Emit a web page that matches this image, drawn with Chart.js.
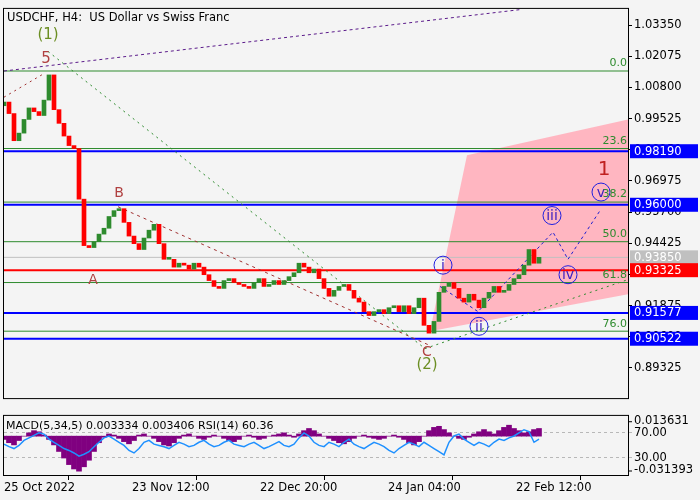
<!DOCTYPE html>
<html><head><meta charset="utf-8">
<script src="https://cdn.jsdelivr.net/npm/chart.js@4.4.1/dist/chart.umd.min.js"></script>
<style>
html,body{margin:0;padding:0;background:#f4f4f4;width:700px;height:500px;overflow:hidden}
#w1{position:absolute;left:0;top:0;width:700px;height:407px}
#w2{position:absolute;left:0;top:407px;width:700px;height:93px}
</style></head><body>
<div id="w1"><canvas id="c1"></canvas></div>
<div id="w2"><canvas id="c2"></canvas></div>
<script>
const title = 'USDCHF, H4:  US Dollar vs Swiss Franc';
const closes = [1.0020,0.9973,0.9862,0.9893,0.9949,0.9996,0.9981,0.9965,1.0028,1.0131,0.9989,0.9933,0.9881,0.9842,0.9830,0.9623,0.9433,0.9425,0.9449,0.9480,0.9504,0.9552,0.9576,0.9584,0.9528,0.9472,0.9441,0.9417,0.9464,0.9496,0.9520,0.9441,0.9377,0.9377,0.9345,0.9361,0.9353,0.9337,0.9361,0.9345,0.9314,0.9290,0.9266,0.9258,0.9290,0.9298,0.9282,0.9274,0.9266,0.9258,0.9282,0.9298,0.9266,0.9274,0.9290,0.9274,0.9290,0.9306,0.9322,0.9361,0.9345,0.9322,0.9337,0.9298,0.9258,0.9226,0.9250,0.9266,0.9274,0.9250,0.9218,0.9202,0.9163,0.9147,0.9163,0.9171,0.9155,0.9179,0.9187,0.9163,0.9187,0.9155,0.9179,0.9218,0.9107,0.9075,0.9123,0.9242,0.9266,0.9282,0.9258,0.9218,0.9202,0.9234,0.9210,0.9179,0.9218,0.9242,0.9266,0.9242,0.9250,0.9274,0.9298,0.9314,0.9353,0.9417,0.9361,0.9385];
const openFirst = 1.0005;
const priceTicks = [1.03350,1.02075,1.00800,0.99525,0.98250,0.96975,0.95700,0.94425,0.93150,0.91875,0.90600,0.89325];
const fibLevels = [1.0147,0.9830,0.9611,0.9449,0.9282,0.9083];
const fibLabels = ['0.0','23.6','38.2','50.0','61.8','76.0'];
const blueLevels = [0.98190,0.96000,0.91577,0.90522];
const redLevel = 0.93325;
const lastPrice = 0.93850;
const purpleLine = [[0,1.0147],[103.2,1.0398]];
const greenDotA = [[8.8,1.0227],[84.2,0.9012]];
const greenDotB = [[84.2,0.9012],[124.8,0.9294]];
const redDotA = [[0,1.0040],[8.2,1.0139]];
const redDotB = [[22.8,0.9592],[84.8,0.9028]];
const bluePath = [[87.2,0.9266],[94.8,0.9163],[109.8,0.9488],[112.8,0.9377],[119.2,0.9576]];
const pinkZone = [[85.2,0.9083],[92.6,0.9803],[124.8,0.9949],[124.8,0.9234],[85.2,0.9083]];
const waveLabels = [
 {t:'(1)',x:8.8,y:1.0292,c:'#6b8e23',s:15},{t:'5',x:8.4,y:1.0197,c:'#b04040',s:15},
 {t:'B',x:23,y:0.9647,c:'#b04040',s:14},{t:'A',x:17.8,y:0.9290,c:'#b04040',s:14},
 {t:'C',x:84.6,y:0.8998,c:'#b04040',s:14},{t:'(2)',x:84.6,y:0.8943,c:'#6b8e23',s:15},
 {t:'1',x:120,y:0.9743,c:'#c02020',s:20}];
const circleLabels = [{t:'i',x:87.8,y:0.9353},{t:'ii',x:95,y:0.9103},{t:'iii',x:109.6,y:0.9556},{t:'iv',x:112.8,y:0.9314},{t:'v',x:119.4,y:0.9652}];
const dateLabels = ['25 Oct 2022','23 Nov 12:00','22 Dec 20:00','24 Jan 04:00','22 Feb 12:00'];
const dateIdx = [0,25.6,51.2,76.8,102.4];
const macd = [-3,-6,-8,-4,0,3,5,4,1,-3,-8,-14,-20,-26,-30,-32,-28,-22,-14,-6,-1,2,1,-2,-5,-7,-4,1,2,0,-2,-5,-8,-9,-6,-2,1,2,0,-2,-3,-1,1,0,-2,-4,-5,-3,0,1,-1,-3,-2,0,1,2,3,1,-1,2,5,7,5,2,0,-2,-4,-6,-7,-5,-2,0,1,-1,-2,-3,-2,0,1,-1,-3,-6,-8,-5,0,5,8,9,6,3,0,-2,-3,-1,2,4,6,4,2,5,8,10,7,5,3,4,6,7];
const rsi = [52,48,45,50,58,62,66,70,68,60,55,50,45,42,38,33,36,40,48,55,62,65,60,55,50,42,38,45,55,58,52,50,48,45,50,55,52,48,50,55,58,52,48,50,55,58,52,50,48,52,55,50,45,48,52,56,50,48,52,62,70,65,55,50,48,55,52,48,55,60,52,48,45,50,55,52,48,42,38,45,50,55,52,48,55,50,45,40,35,55,65,68,60,55,50,55,52,48,55,60,58,62,65,70,75,72,55,60];

const FONT = 'DejaVu Sans';
const XMAX = 124.8;
const pts = a => a.map(p => ({x:p[0], y:p[1]}));
const candles = closes.map((c,i) => ({x:i, y:[i ? closes[i-1] : openFirst, c]}));
const hline = (v) => [{x:0,y:v},{x:XMAX,y:v}];
const lineDS = (data, color, width, dash, order) => ({type:'line', data, borderColor:color, borderWidth:width, borderDash:dash||[], pointRadius:0, fill:false, order:order||1, tension:0});

const ds = [
  {type:'line', data:pts(pinkZone), borderWidth:0, backgroundColor:'#ffb6c1', fill:'shape', pointRadius:0, order:10},
  ...fibLevels.map(v => lineDS(hline(v), '#2e8b2e', 1, null, 5)),
  lineDS(hline(lastPrice), '#c0c0c0', 1, null, 5),
  ...blueLevels.map(v => lineDS(hline(v), '#0000ff', 2, null, 4)),
  lineDS(hline(redLevel), '#ff0000', 2, null, 4),
  lineDS(pts(purpleLine), '#5a1a8a', 1, [3,3], 3),
  lineDS(pts(greenDotA), '#2e8b2e', 1, [2,4], 3),
  lineDS(pts(greenDotB), '#2e8b2e', 1, [2,4], 3),
  lineDS(pts(redDotA), '#a03030', 1, [2,4], 3),
  lineDS(pts(redDotB), '#a03030', 1, [3,4], 3),
  lineDS(pts(bluePath), '#2020d0', 1, [3,3], 3),
  {type:'bar', data:candles, order:2, barThickness:4, minBarLength:2,
   backgroundColor: c => { const d = c.raw; return d && d.y[1] >= d.y[0] ? '#2e8b2e' : '#ff0000'; }}
];

const overlay = {
  id:'overlay',
  afterDatasetsDraw(chart){
    const {ctx, chartArea:a, scales:{x,y}} = chart;
    ctx.save();
    ctx.beginPath(); ctx.rect(a.left,a.top,a.right-a.left,a.bottom-a.top); ctx.clip();
    ctx.textAlign='center'; ctx.textBaseline='middle';
    waveLabels.forEach(l => { ctx.fillStyle=l.c; ctx.font=l.s+'px '+FONT; ctx.fillText(l.t, x.getPixelForValue(l.x), y.getPixelForValue(l.y)); });
    circleLabels.forEach(l => {
      const px=x.getPixelForValue(l.x), py=y.getPixelForValue(l.y);
      ctx.strokeStyle='#2020e0'; ctx.lineWidth=1; ctx.beginPath(); ctx.arc(px,py,9,0,Math.PI*2); ctx.stroke();
      ctx.fillStyle='#4020c0'; ctx.font='14px '+FONT; ctx.fillText(l.t,px,py+1);
    });
    ctx.textAlign='right'; ctx.textBaseline='bottom'; ctx.fillStyle='#2e8b2e'; ctx.font='11px '+FONT;
    fibLevels.forEach((v,i) => ctx.fillText(fibLabels[i], a.right-1, y.getPixelForValue(v)-2));
    ctx.restore();
    ctx.save();
    ctx.strokeStyle='#000'; ctx.lineWidth=1;
    ctx.strokeRect(a.left-0.5,a.top-0.5,a.right-a.left+1,a.bottom-a.top+1);
    ctx.fillStyle='#000'; ctx.font='11.5px '+FONT; ctx.textAlign='left'; ctx.textBaseline='middle';
    ctx.fillText(title, a.left+3, a.top+9);
    const box = (v,bg) => { const py=y.getPixelForValue(v); ctx.fillStyle=bg; ctx.fillRect(a.right+2,py-7,68,14); ctx.fillStyle='#fff'; ctx.font='11.5px '+FONT; ctx.fillText(v.toFixed(5), a.right+6, py+0.5); };
    blueLevels.forEach(v => box(v,'#0000ff'));
    box(lastPrice,'#c0c0c0'); box(redLevel,'#ff0000');
    ctx.restore();
  }
};

new Chart(document.getElementById('c1'), {
  data:{datasets:ds},
  options:{responsive:true, maintainAspectRatio:false, animation:false,
    layout:{padding:{left:4,top:4,bottom:2,right:0}},
    plugins:{legend:{display:false}, tooltip:{enabled:false}},
    scales:{
      x:{type:'linear', min:0, max:XMAX, display:false, offset:false},
      y:{position:'right', min:0.88094, max:1.0401,
        afterFit:s=>{s.width=72;},
        afterBuildTicks:s=>{s.ticks=priceTicks.map(v=>({value:v}));},
        grid:{display:true, drawOnChartArea:false, tickLength:4, color:'#000'},
        border:{color:'#000'},
        ticks:{color:'#000', font:{family:FONT,size:11.5}, padding:2, callback:v=>v.toFixed(5)}}
    }}, plugins:[overlay]
});

const overlay2 = {
  id:'overlay2',
  afterDraw(chart){
    const {ctx, chartArea:a, scales:{ym}} = chart;
    ctx.save();
    ctx.strokeStyle='#000'; ctx.lineWidth=1;
    ctx.strokeRect(a.left-0.5,a.top-0.5,a.right-a.left+1,a.bottom-a.top+1);
    ctx.fillStyle='#000'; ctx.font='11px '+FONT; ctx.textBaseline='middle'; ctx.textAlign='left';
    ctx.fillText('MACD(5,34,5) 0.003334 0.003406 RSI(14) 60.36', a.left+2, a.top+10);
    ctx.font='11.5px '+FONT;
    [0.013631,-0.031393].forEach(v => { const py=ym.getPixelForValue(v); ctx.beginPath(); ctx.moveTo(a.right,py+0.5); ctx.lineTo(a.right+4,py+0.5); ctx.stroke(); ctx.fillText(v.toFixed(6), a.right+6, py); });
    ctx.restore();
  }
};

new Chart(document.getElementById('c2'), {
  data:{datasets:[
    {type:'line', yAxisID:'yr', data:rsi.map((v,i)=>({x:i,y:v})), borderColor:'#1e90ff', borderWidth:1.5, pointRadius:0, tension:0, order:1},
    {type:'bar', yAxisID:'ym', data:macd.map((v,i)=>({x:i,y:v/1000})), backgroundColor:'#800080', barPercentage:1, categoryPercentage:1, barThickness:5, order:2}
  ]},
  options:{responsive:true, maintainAspectRatio:false, animation:false,
    layout:{padding:{left:4,top:2,bottom:0,right:0}},
    plugins:{legend:{display:false}, tooltip:{enabled:false}},
    scales:{
      x:{type:'linear', min:0, max:XMAX, offset:false,
        afterFit:s=>{s.height=25;},
        afterBuildTicks:s=>{s.ticks=dateIdx.map(v=>({value:v}));},
        grid:{drawOnChartArea:false, tickLength:5, color:'#000'}, border:{color:'#000'},
        ticks:{color:'#000', font:{family:FONT,size:11.5}, maxRotation:0, align:'start', padding:1, autoSkip:false,
          callback:(v,i)=>dateLabels[i]}},
      ym:{display:false, min:-0.0355, max:0.0185},
      yr:{position:'right', min:2.9, max:97,
        afterFit:s=>{s.width=72;},
        afterBuildTicks:s=>{s.ticks=[{value:70},{value:30}];},
        grid:{drawOnChartArea:true, color:'#b8b8b8', tickLength:4}, border:{color:'#000', dash:[3,3]},
        ticks:{color:'#000', font:{family:FONT,size:11.5}, padding:2, callback:v=>v.toFixed(2)}}
    }}, plugins:[overlay2]
});
</script></body></html>
